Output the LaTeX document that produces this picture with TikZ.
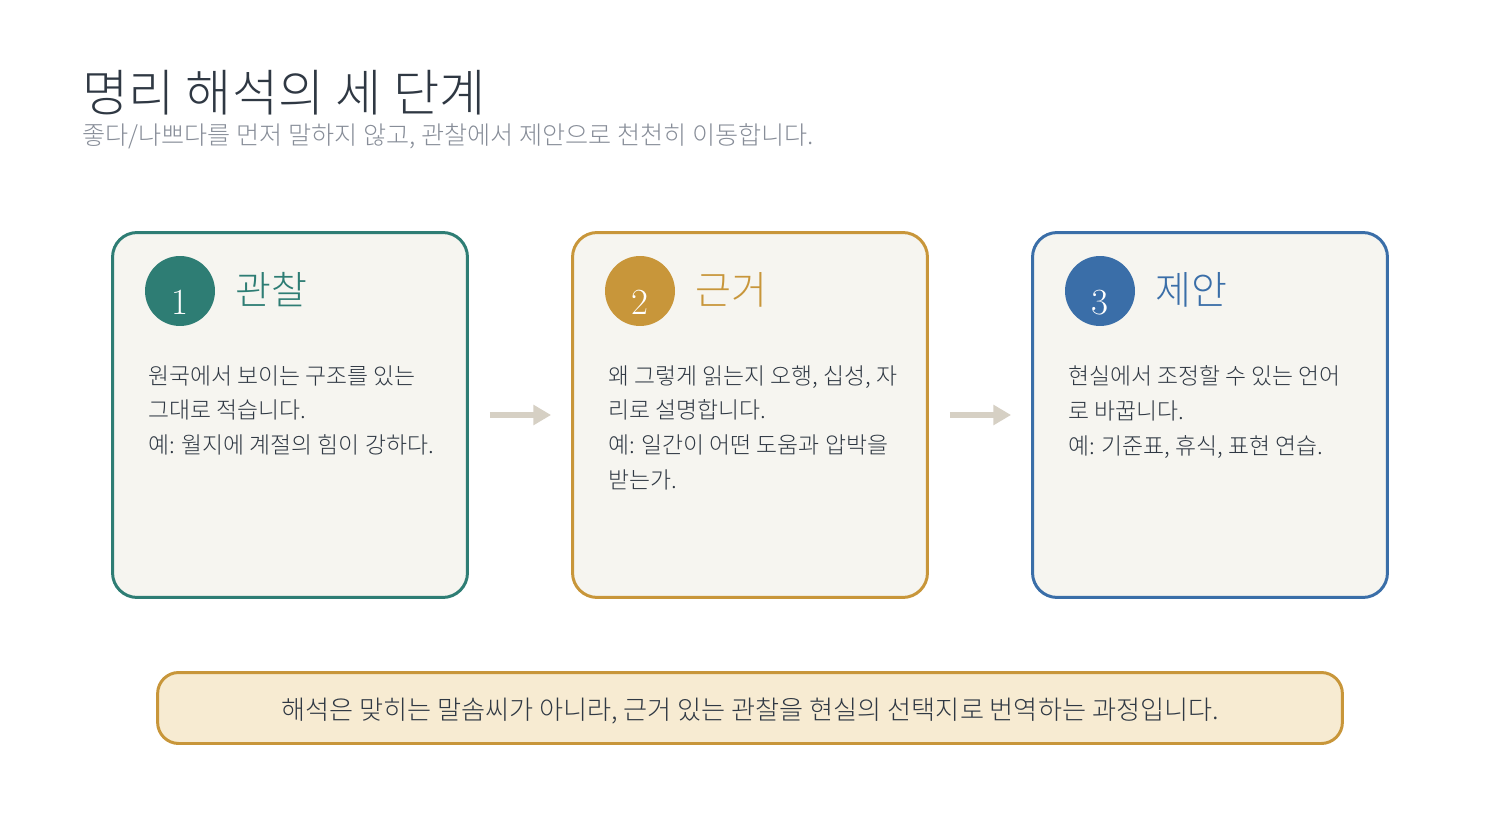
\documentclass[tikz,border=0pt]{standalone}
\usepackage{fontspec}
\usetikzlibrary{arrows.meta}
\newfontfamily\kr{Noto Sans CJK KR}[UprightFont=* Light]
\definecolor{teal}{HTML}{2E7D74}
\definecolor{gold}{HTML}{C8963A}
\definecolor{steel}{HTML}{3A6EA8}
\definecolor{ink}{HTML}{2F3843}
\definecolor{mute}{HTML}{878D98}
\definecolor{paper}{HTML}{F6F5F0}
\definecolor{cream}{HTML}{F7EBD2}
\definecolor{pale}{HTML}{D6D0C4}
\begin{document}
\begin{tikzpicture}[x=0.02cm,y=-0.02cm,>=stealth,
  card/.style={draw=#1,fill=paper,line width=1.7pt,rounded corners=14pt,
    minimum width=7.1cm,minimum height=7.3cm},
  badge/.style={circle,fill=#1,minimum size=1.4cm,inner sep=0pt},
  num/.style={anchor=base,text=white,font=\fontsize{21}{21}\selectfont},
  head/.style={anchor=west,text=#1,inner sep=0pt,font=\kr\fontsize{22.2}{22.2}\selectfont},
  body/.style={anchor=north west,inner sep=0pt,align=left,text=ink,
    font=\kr\fontsize{13}{19.85}\selectfont},
  flow/.style={draw=pale,line width=3.4pt,shorten <=0.42cm,shorten >=0.4cm,
    -{Triangle[length=10pt,width=11pt]}}]
 \useasboundingbox (0,0) rectangle (1500,820);
 % title
 \node[anchor=west,inner sep=0pt,text=ink,font=\kr\fontsize{28.6}{28.6}\selectfont]
   (title) at (82,93) {명리 해석의 세 단계};
 \node[anchor=west,inner sep=0pt,text=mute,font=\kr\fontsize{14.3}{14.3}\selectfont]
   (sub) at (82,136) {좋다/나쁘다를 먼저 말하지 않고, 관찰에서 제안으로 천천히 이동합니다.};
 % cards
 \node[card=teal] (obs) at (290,415) {};
 \node[card=gold] (why) at (750,415) {};
 \node[card=steel] (act) at (1210,415) {};
 \node[badge=teal] (b1) at (180,291) {};
 \node[badge=gold] (b2) at (640,291) {};
 \node[badge=steel] (b3) at (1100,291) {};
 \node[num] at (180,315) {1};
 \node[num] at (640,315) {2};
 \node[num] at (1100,315) {3};
 \node[head=teal] (h1) at (235,290) {관찰};
 \node[head=gold] (h2) at (695,290) {근거};
 \node[head=steel] (h3) at (1155,290) {제안};
 \node[body] (t1) at (148,365) {원국에서 보이는 구조를 있는\\그대로 적습니다.\\예: 월지에 계절의 힘이 강하다.};
 \node[body] (t2) at (608,365) {왜 그렇게 읽는지 오행, 십성, 자\\리로 설명합니다.\\예: 일간이 어떤 도움과 압박을\\받는가.};
 \node[body] (t3) at (1068,365) {현실에서 조정할 수 있는 언어\\로 바꿉니다.\\예: 기준표, 휴식, 표현 연습.};
 % arrows
 \draw[flow] (obs.east) -- (why.west);
 \draw[flow] (why.east) -- (act.west);
 % note
 \node[draw=gold,fill=cream,line width=1.7pt,rounded corners=12pt,
   minimum width=23.7cm,minimum height=1.42cm,text=ink,
   font=\kr\fontsize{14.9}{14.9}\selectfont] (note) at (750,708) {};
 \node[text=ink,font=\kr\fontsize{14.9}{14.9}\selectfont] (msg) at (750,711)
   {해석은 맞히는 말솜씨가 아니라, 근거 있는 관찰을 현실의 선택지로 번역하는 과정입니다.};
\end{tikzpicture}
\end{document}
